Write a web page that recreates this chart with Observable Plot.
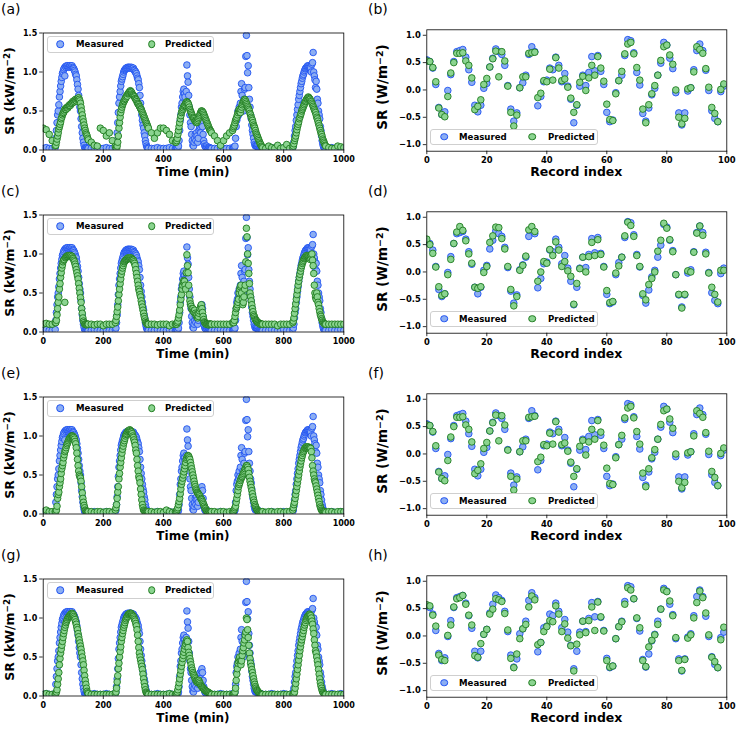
<!DOCTYPE html>
<html><head><meta charset="utf-8">
<script src="https://cdn.jsdelivr.net/npm/d3@7"></script>
<script src="https://cdn.jsdelivr.net/npm/@observablehq/plot@0.6"></script>
<style>
body{margin:0;background:#fff;}
#fig{position:relative;width:737px;height:730px;font-family:"DejaVu Sans",sans-serif;color:#000;overflow:hidden;}
.panel{position:absolute;}
.panel svg{position:absolute;left:0;top:0;}
.plabel{position:absolute;font-size:14px;line-height:14px;font-weight:normal;}
.xt{position:absolute;text-align:center;font-weight:bold;white-space:nowrap;line-height:14px;}
.yt{position:absolute;font-weight:bold;white-space:nowrap;transform:translate(-50%,-50%) rotate(-90deg);line-height:1;}
.yt sup{font-size:0.7em;vertical-align:0.45em;line-height:0;}
.leg{position:absolute;border:1px solid #cfcfcf;border-radius:3px;background:rgba(255,255,255,0.85);box-sizing:border-box;}
.leg .m{position:absolute;width:5.6px;height:5.6px;border-radius:50%;transform:translate(-50%,-50%);border-width:1px;border-style:solid;}
.leg .t{position:absolute;font-size:8.6px;font-weight:bold;transform:translateY(-50%);line-height:1;white-space:nowrap;}
</style>
</head><body><div id="fig"></div>
<script>
// ---------- data ----------
// sampling grid (min): 10-min steps at night, 2-min steps across the daylight humps
const timeMin = [].concat(
  d3.range(0, 41, 10), d3.range(42, 151, 2), d3.range(160, 241, 10), d3.range(242, 351, 2),
  d3.range(360, 441, 10), d3.range(442, 561, 2), d3.range(570, 631, 10), d3.range(632, 731, 2),
  d3.range(740, 831, 10), d3.range(832, 941, 2), d3.range(950, 1001, 10));

const measuredSR = [
0.02,0.03,0.02,0.02,0.03,
0.15,0.25,0.35,0.45,0.5, 0.58,0.68,0.75,0.82,0.88, 0.93,0.98,1.0,1.03,1.05, 0.95,1.07,1.06,1.08,1.07, 1.08,1.06,1.07,1.08,1.08, 1.06,1.07,1.08,1.06,1.05, 1.04,1.02,1.0,0.97,0.95, 0.9,0.84,0.78,0.7,0.62, 0.55,0.5,0.4,0.3,0.22, 0.15,0.1,0.06,0.03,0.02, 0.02,0.02,0.03,0.02,0.02,
0.02,0.03,0.02,0.02,0.02,0.03,0.02,0.02,0.03,
0.05,0.12,0.22,0.35,0.48, 0.6,0.68,0.75,0.82,0.88, 0.91,0.94,0.97,1.0,1.02, 1.03,1.04,1.05,1.05,1.06, 1.05,1.06,1.06,1.05,1.06, 1.05,1.06,1.05,1.04,1.05, 1.03,1.02,1.0,1.0,0.98, 0.95,0.92,0.9,0.85,0.8, 0.7,0.6,0.52,0.45,0.38, 0.32,0.28,0.22,0.18,0.12, 0.08,0.05,0.03,0.02,0.02,
0.02,0.02,0.03,0.02,0.02,0.02,0.03,0.02,0.02,
0.02,0.02,0.03,0.02,0.05, 0.12,0.25,0.38,0.45,0.55, 0.6,0.68,0.75,0.78,0.72, 0.68,0.6,0.75,1.09,0.95, 0.87,0.7,0.55,0.45,0.35, 0.3,0.2,0.12,0.06,0.05, 0.1,0.15,0.2,0.12,0.22, 0.18,0.1,0.15,0.25,0.28, 0.3,0.22,0.32,0.35,0.3, 0.2,0.12,0.08,0.05,0.04, 0.03,0.05,0.03,0.02,0.02, 0.02,0.03,0.02,0.02,0.02,
0.02,0.02,0.03,0.02,0.02,0.02,0.03,
0.02,0.02,0.03,0.05,0.15, 0.3,0.38,0.42,0.5,0.45, 0.55,0.48,0.6,0.75,0.85, 0.7,0.55,0.5,0.65,0.78, 0.8,1.2,1.47,1.21,0.99, 1.08,0.8,0.65,0.55,0.45, 0.4,0.32,0.25,0.2,0.15, 0.1,0.07,0.05,0.06,0.05, 0.04,0.05,0.03,0.02,0.02, 0.02,0.03,0.02,0.02,0.02,
0.02,0.02,0.03,0.02,0.02,0.02,0.03,0.02,0.02,0.03,
0.05,0.1,0.18,0.25,0.3, 0.38,0.45,0.52,0.58,0.65, 0.7,0.75,0.8,0.85,0.88, 0.92,0.95,0.97,1.0,1.02, 1.04,1.05,1.06,1.07,1.08, 1.07,1.08,1.07,1.06,1.05, 1.0,1.1,1.12,1.25,1.0, 0.95,0.9,0.8,0.88,0.78, 0.65,0.6,0.5,0.45,0.4, 0.3,0.25,0.18,0.12,0.08, 0.05,0.03,0.02,0.02,0.02,
0.02,0.03,0.02,0.02,0.03,0.02];

const predictedA = [
0.28,0.26,0.2,0.12,0.05,
0.06,0.1,0.14,0.18,0.22, 0.27,0.3,0.33,0.36,0.4, 0.42,0.45,0.47,0.48,0.5, 0.52,0.53,0.52,0.54,0.55, 0.54,0.56,0.57,0.58,0.57, 0.59,0.6,0.6,0.62,0.61, 0.63,0.62,0.64,0.65,0.63, 0.65,0.66,0.66,0.67,0.65, 0.63,0.6,0.55,0.5,0.45, 0.4,0.36,0.32,0.28,0.25, 0.22,0.2,0.18,0.15,0.13,
0.1,0.06,0.05,0.28,0.25,0.18,0.22,0.12,0.05,
0.03,0.02,0.05,0.1,0.18, 0.28,0.35,0.42,0.48,0.52, 0.55,0.58,0.6,0.62,0.63, 0.65,0.66,0.68,0.7,0.69, 0.72,0.73,0.74,0.75,0.76, 0.75,0.74,0.72,0.71,0.7, 0.69,0.68,0.66,0.65,0.64, 0.62,0.6,0.59,0.58,0.56, 0.55,0.53,0.52,0.5,0.48, 0.46,0.44,0.42,0.4,0.38, 0.36,0.34,0.32,0.3,0.28,
0.22,0.15,0.22,0.28,0.28,0.25,0.2,0.12,0.1,
0.1,0.12,0.15,0.2,0.25, 0.3,0.35,0.4,0.44,0.48, 0.5,0.52,0.54,0.56,0.57, 0.58,0.6,0.61,0.62,0.61, 0.6,0.58,0.55,0.52,0.5, 0.48,0.46,0.44,0.42,0.41, 0.4,0.38,0.37,0.36,0.35, 0.36,0.38,0.4,0.42,0.44, 0.46,0.48,0.5,0.5,0.49, 0.48,0.46,0.44,0.42,0.4, 0.38,0.36,0.34,0.32,0.3, 0.28,0.26,0.25,0.24,0.22,
0.18,0.12,0.06,0.12,0.18,0.22,0.25,
0.28,0.3,0.32,0.35,0.38, 0.4,0.42,0.45,0.48,0.5, 0.52,0.5,0.48,0.52,0.55, 0.58,0.6,0.62,0.63,0.65, 0.64,0.62,0.6,0.58,0.56, 0.54,0.52,0.5,0.47,0.45, 0.42,0.4,0.38,0.35,0.32, 0.3,0.28,0.25,0.22,0.2, 0.18,0.16,0.14,0.12,0.1, 0.08,0.07,0.05,0.04,0.03,
0.02,0.05,0.03,0.02,0.06,0.02,0.03,0.07,0.02,0.03,
0.05,0.08,0.12,0.15,0.18, 0.22,0.26,0.3,0.33,0.36, 0.4,0.42,0.45,0.47,0.5, 0.52,0.54,0.56,0.58,0.6, 0.62,0.63,0.65,0.66,0.67, 0.68,0.67,0.66,0.65,0.63, 0.62,0.6,0.58,0.56,0.54, 0.52,0.5,0.48,0.45,0.42, 0.4,0.37,0.34,0.31,0.28, 0.25,0.22,0.2,0.17,0.14, 0.12,0.1,0.08,0.06,0.05,
0.03,0.02,0.02,0.05,0.04,0.03];

const predictedC = [
0.1,0.11,0.1,0.1,0.12,
0.12,0.15,0.22,0.3,0.38, 0.45,0.55,0.62,0.7,0.76, 0.82,0.86,0.9,0.92,0.93, 0.38,0.95,0.96,0.97,0.97, 0.98,0.97,0.98,0.98,0.97, 0.98,0.96,0.97,0.95,0.94, 0.92,0.9,0.87,0.84,0.8, 0.76,0.72,0.68,0.62,0.56, 0.5,0.44,0.38,0.3,0.24, 0.18,0.14,0.12,0.1,0.1, 0.1,0.09,0.1,0.1,0.1,
0.1,0.09,0.1,0.1,0.08,0.1,0.1,0.1,0.12,
0.15,0.2,0.26,0.32,0.4, 0.48,0.55,0.62,0.68,0.74, 0.78,0.82,0.85,0.88,0.9, 0.91,0.92,0.93,0.93,0.94, 0.95,0.94,0.95,0.95,0.94, 0.95,0.94,0.93,0.93,0.92, 0.9,0.88,0.85,0.8,0.75, 0.7,0.65,0.6,0.55,0.52, 0.48,0.45,0.4,0.36,0.32, 0.28,0.24,0.2,0.17,0.14, 0.12,0.11,0.1,0.1,0.1,
0.1,0.1,0.09,0.1,0.1,0.1,0.08,0.1,0.1,
0.1,0.1,0.12,0.14,0.18, 0.22,0.28,0.35,0.42,0.48, 0.55,0.6,0.64,0.66,0.65, 0.6,0.55,0.76,0.99,0.85, 0.76,0.6,0.48,0.4,0.36, 0.33,0.3,0.28,0.3,0.27, 0.25,0.28,0.24,0.22,0.2, 0.22,0.18,0.2,0.24,0.27, 0.3,0.33,0.35,0.3,0.25, 0.2,0.16,0.13,0.12,0.11, 0.1,0.1,0.1,0.1,0.09, 0.1,0.1,0.1,0.1,0.1,
0.1,0.1,0.1,0.1,0.1,0.1,0.12,
0.12,0.12,0.15,0.2,0.25, 0.3,0.32,0.35,0.38,0.42, 0.5,0.55,0.58,0.6,0.5, 0.42,0.35,0.38,0.45,0.55, 0.6,0.9,1.33,1.22,1.0, 0.88,0.75,0.62,0.5,0.45, 0.4,0.35,0.3,0.26,0.22, 0.2,0.18,0.16,0.15,0.14, 0.13,0.12,0.12,0.11,0.11, 0.1,0.1,0.1,0.1,0.1,
0.1,0.1,0.1,0.1,0.08,0.1,0.1,0.1,0.1,0.12,
0.14,0.18,0.24,0.3,0.36, 0.42,0.48,0.54,0.6,0.65, 0.7,0.74,0.78,0.82,0.85, 0.88,0.9,0.92,0.94,0.95, 0.96,0.97,0.98,0.97,0.98, 0.97,0.96,0.95,0.93,0.95, 0.98,1.0,0.92,0.85,0.75, 0.6,0.5,0.45,0.42,0.5, 0.45,0.38,0.35,0.3,0.26, 0.22,0.2,0.17,0.15,0.13, 0.12,0.11,0.1,0.1,0.1,
0.1,0.1,0.1,0.1,0.1,0.1];

const predictedE = [
0.03,0.05,0.03,0.03,0.03,
0.03,0.05,0.1,0.2,0.25, 0.28,0.35,0.4,0.45,0.52, 0.58,0.62,0.66,0.72,0.76, 0.8,0.82,0.85,0.88,0.9, 0.92,0.94,0.96,0.97,0.98, 0.99,1.0,1.0,1.0,0.99, 0.98,0.96,0.93,0.9,0.85, 0.78,0.7,0.62,0.55,0.5, 0.48,0.46,0.42,0.35,0.27, 0.2,0.15,0.11,0.08,0.05, 0.04,0.03,0.03,0.02,0.03,
0.03,0.02,0.03,0.03,0.02,0.03,0.03,0.02,0.05,
0.08,0.12,0.2,0.28,0.35, 0.45,0.52,0.6,0.66,0.72, 0.78,0.83,0.87,0.91,0.94, 0.97,1.0,1.02,1.03,1.05, 1.06,1.07,1.07,1.08,1.07, 1.06,1.05,1.03,1.0,0.98, 0.95,0.92,0.88,0.82,0.78, 0.7,0.62,0.55,0.48,0.45, 0.4,0.32,0.25,0.18,0.12, 0.08,0.05,0.04,0.03,0.03, 0.02,0.03,0.03,0.02,0.03,
0.03,0.02,0.03,0.03,0.02,0.05,0.03,0.02,0.03,
0.03,0.04,0.06,0.08,0.12, 0.16,0.2,0.26,0.32,0.38, 0.42,0.46,0.5,0.54,0.58, 0.62,0.66,0.7,0.72,0.74, 0.75,0.74,0.72,0.7,0.66, 0.62,0.58,0.54,0.5,0.46, 0.42,0.38,0.35,0.32,0.3, 0.28,0.27,0.26,0.25,0.24, 0.22,0.2,0.19,0.18,0.16, 0.14,0.12,0.1,0.08,0.07, 0.05,0.04,0.03,0.03,0.02, 0.03,0.03,0.02,0.03,0.03,
0.03,0.02,0.03,0.03,0.02,0.03,0.03,
0.03,0.04,0.06,0.08,0.1, 0.15,0.2,0.25,0.3,0.35, 0.38,0.4,0.43,0.45,0.47, 0.48,0.5,0.52,0.54,0.56, 0.58,0.6,0.62,0.62,0.6, 0.57,0.52,0.47,0.42,0.38, 0.34,0.3,0.26,0.22,0.18, 0.15,0.12,0.1,0.08,0.06, 0.05,0.04,0.03,0.03,0.02, 0.03,0.03,0.02,0.03,0.03,
0.02,0.03,0.03,0.02,0.03,0.03,0.02,0.03,0.03,0.05,
0.08,0.12,0.15,0.2,0.25, 0.3,0.35,0.4,0.45,0.5, 0.55,0.6,0.64,0.68,0.72, 0.75,0.78,0.8,0.82,0.84, 0.85,0.86,0.86,0.86,0.85, 0.86,0.85,0.84,0.85,0.84, 0.8,0.72,0.62,0.55,0.5, 0.45,0.42,0.4,0.36,0.32, 0.28,0.24,0.2,0.16,0.12, 0.09,0.07,0.05,0.04,0.03, 0.03,0.02,0.03,0.03,0.02,
0.03,0.03,0.02,0.03,0.03,0.03];

const predictedG = [
0.02,0.03,0.02,0.02,0.02,
0.03,0.05,0.08,0.15,0.22, 0.3,0.4,0.48,0.55,0.6, 0.65,0.7,0.75,0.8,0.84, 0.88,0.91,0.94,0.96,0.98, 1.0,1.01,1.02,1.03,1.04, 1.05,1.05,1.06,1.05,1.04, 1.02,1.0,0.98,0.95,0.92, 0.88,0.85,0.8,0.76,0.72, 0.68,0.64,0.6,0.55,0.5, 0.45,0.4,0.33,0.26,0.2, 0.15,0.1,0.06,0.04,0.03,
0.02,0.02,0.02,0.02,0.02,0.02,0.02,0.02,0.03,
0.05,0.1,0.18,0.26,0.35, 0.42,0.5,0.57,0.63,0.7, 0.75,0.8,0.84,0.88,0.91, 0.94,0.97,0.99,1.01,1.02, 1.04,1.05,1.05,1.06,1.06, 1.06,1.05,1.04,1.03,1.02, 1.0,0.98,0.96,0.93,0.9, 0.85,0.78,0.7,0.62,0.55, 0.5,0.46,0.42,0.38,0.34, 0.28,0.22,0.17,0.12,0.08, 0.05,0.04,0.03,0.02,0.02,
0.02,0.02,0.02,0.02,0.02,0.02,0.03,0.02,0.02,
0.02,0.03,0.05,0.08,0.12, 0.17,0.22,0.28,0.33,0.38, 0.43,0.48,0.52,0.56,0.6, 0.64,0.67,0.7,0.72,0.7, 0.62,0.56,0.52,0.48,0.44, 0.4,0.36,0.33,0.3,0.28, 0.26,0.24,0.22,0.2,0.19, 0.18,0.17,0.18,0.2,0.18, 0.16,0.14,0.13,0.12,0.11, 0.1,0.09,0.08,0.07,0.07, 0.06,0.06,0.05,0.05,0.04, 0.04,0.03,0.03,0.02,0.02,
0.02,0.02,0.02,0.02,0.02,0.02,0.02,
0.02,0.02,0.03,0.05,0.1, 0.2,0.28,0.35,0.42,0.45, 0.48,0.5,0.45,0.4,0.45, 0.52,0.58,0.62,0.68,0.72, 0.78,0.82,1.0,0.98,0.85, 0.75,0.65,0.55,0.48,0.42, 0.38,0.34,0.3,0.26,0.22, 0.18,0.15,0.12,0.1,0.08, 0.07,0.06,0.05,0.04,0.03, 0.03,0.02,0.02,0.02,0.02,
0.02,0.02,0.02,0.02,0.02,0.02,0.02,0.02,0.02,0.02,
0.02,0.03,0.05,0.1,0.16, 0.22,0.28,0.34,0.4,0.46, 0.52,0.58,0.63,0.68,0.72, 0.76,0.8,0.84,0.88,0.91, 0.94,0.97,0.99,1.01,1.02, 1.03,1.04,1.05,1.04,1.03, 1.0,0.96,0.92,0.86,0.8, 0.72,0.65,0.58,0.55,0.5, 0.45,0.4,0.34,0.28,0.22, 0.17,0.13,0.1,0.07,0.05, 0.04,0.03,0.02,0.02,0.02,
0.02,0.02,0.02,0.02,0.02,0.02];

const recordIndex = d3.range(0, 100);
const measuredRec = [
0.55,0.52,0.40,0.10,-0.32,-0.45,-0.40,-0.01,0.28,0.52,
0.70,0.72,0.74,0.60,0.37,0.14,-0.28,-0.40,-0.28,0.03,
0.12,0.42,0.58,0.75,0.70,0.65,0.45,0.08,-0.35,-0.57,
-0.42,0.04,0.13,0.27,0.65,0.79,0.70,-0.29,-0.12,0.15,
0.18,0.40,0.37,0.60,0.45,0.15,0.30,0.07,-0.17,-0.60,
-0.28,0.07,0.27,0.08,0.32,0.61,0.35,0.63,0.34,0.10,
-0.41,-0.58,-0.55,-0.05,0.17,0.27,0.63,0.92,0.90,0.68,
0.32,0.09,-0.43,-0.57,-0.33,-0.09,0.03,0.27,0.49,0.87,
0.82,0.58,0.39,-0.05,-0.42,-0.64,-0.42,-0.02,0.04,0.37,
0.72,0.84,0.72,0.36,-0.01,-0.38,-0.52,-0.58,-0.03,0.07];
const predictedB = [
0.53,0.52,0.41,0.15,-0.33,-0.45,-0.49,-0.12,0.31,0.50,
0.67,0.67,0.68,0.53,0.45,0.22,-0.36,-0.30,-0.18,0.10,
0.21,0.42,0.57,0.71,0.24,0.70,0.53,0.07,-0.41,-0.66,
-0.46,0.04,0.24,0.24,0.67,0.68,0.69,-0.14,-0.06,0.17,
0.15,0.38,0.18,0.59,0.40,0.17,0.20,0.05,-0.15,-0.41,
-0.27,0.14,0.25,-0.01,0.22,0.45,0.27,0.61,0.40,0.16,
-0.26,-0.54,-0.56,-0.07,0.17,0.34,0.66,0.84,0.87,0.66,
0.41,0.18,-0.35,-0.60,-0.27,-0.07,0.08,0.27,0.54,0.79,
0.82,0.64,0.47,0.00,-0.50,-0.62,-0.52,0.02,0.04,0.33,
0.79,0.74,0.67,0.39,0.05,-0.32,-0.43,-0.58,0.01,0.11];
const predictedD = [
0.60,0.50,0.34,0.09,-0.27,-0.43,-0.40,-0.05,0.23,0.52,
0.73,0.83,0.76,0.57,0.33,0.16,-0.28,-0.30,-0.27,-0.01,
0.10,0.54,0.66,0.82,0.81,0.61,0.42,0.10,-0.32,-0.62,
-0.45,0.03,0.12,0.29,0.77,0.83,0.74,-0.17,0.00,0.19,
0.16,0.41,0.30,0.55,0.40,0.10,0.19,0.02,-0.08,-0.59,
-0.21,0.06,0.27,0.00,0.28,0.54,0.30,0.59,0.32,0.09,
-0.34,-0.56,-0.54,-0.02,0.11,0.27,0.66,0.91,0.85,0.65,
0.30,0.10,-0.40,-0.51,-0.23,-0.12,0.00,0.38,0.58,0.89,
0.80,0.59,0.37,-0.05,-0.41,-0.66,-0.41,0.02,0.00,0.36,
0.71,0.84,0.67,0.33,-0.02,-0.28,-0.41,-0.55,0.03,0.03];
const predictedF = [
0.53,0.52,0.41,0.15,-0.33,-0.45,-0.49,-0.12,0.31,0.50,
0.67,0.67,0.68,0.53,0.45,0.22,-0.36,-0.30,-0.18,0.10,
0.21,0.42,0.57,0.71,0.24,0.70,0.53,0.07,-0.41,-0.66,
-0.46,0.04,0.24,0.24,0.67,0.68,0.69,-0.14,-0.06,0.17,
0.15,0.38,0.18,0.59,0.40,0.17,0.20,0.05,-0.15,-0.41,
-0.27,0.14,0.25,-0.02,0.22,0.45,0.27,0.61,0.40,0.16,
-0.26,-0.54,-0.56,-0.07,0.17,0.34,0.66,0.84,0.87,0.66,
0.41,0.18,-0.35,-0.60,-0.27,-0.07,0.08,0.27,0.54,0.79,
0.82,0.64,0.47,0.00,-0.50,-0.62,-0.52,0.02,0.04,0.33,
0.79,0.74,0.67,0.39,0.05,-0.32,-0.43,-0.58,0.01,0.11];
const predictedH = [
0.57,0.55,0.38,0.18,-0.35,-0.43,-0.45,0.01,0.20,0.53,
0.68,0.70,0.74,0.58,0.38,0.20,-0.36,-0.39,-0.14,0.03,
0.12,0.40,0.49,0.68,0.66,0.63,0.41,0.11,-0.41,-0.58,
-0.33,-0.05,0.13,0.21,0.53,0.73,0.66,-0.16,-0.12,0.08,
0.17,0.28,0.26,0.55,0.40,0.08,0.22,-0.04,-0.18,-0.64,
-0.15,0.02,0.27,0.06,0.28,0.53,0.10,0.62,0.35,0.09,
-0.45,-0.57,-0.55,-0.05,0.17,0.26,0.58,0.88,0.84,0.68,
0.33,0.15,-0.45,-0.56,-0.20,-0.08,0.02,0.21,0.49,0.84,
0.81,0.64,0.37,-0.03,-0.45,-0.63,-0.43,-0.04,0.02,0.33,
0.61,0.82,0.70,0.42,0.02,-0.39,-0.47,-0.58,-0.07,0.16];

const leftXTicks = [0, 200, 400, 600, 800, 1000];
const leftYTicks = [0, 0.5, 1.0, 1.5];
const rightXTicks = [0, 20, 40, 60, 80, 100];
const rightYTicks = [-1.0, -0.5, 0, 0.5, 1.0];
const leftPreds = [predictedA, predictedC, predictedE, predictedG];
const rightPreds = [predictedB, predictedD, predictedF, predictedH];
const leftLabels = ["(a)", "(c)", "(e)", "(g)"];
const rightLabels = ["(b)", "(d)", "(f)", "(h)"];
const seriesNames = ["Measured", "Predicted"];

// ---------- styles ----------
const BLUE_FILL = "#8caef2", BLUE_EDGE = "#1f52f2";
const GREEN_FILL = "#8bd490", GREEN_EDGE = "#1e7a1e";
const ROW_H = 182;

function pairs(xs, ys) { return xs.map((x, i) => ({x, y: ys[i]})).filter(d => d.y != null); }

function makePlot(kind, pred) {
  const left = kind === "left";
  const xs = left ? timeMin : recordIndex;
  const meas = left ? measuredSR : measuredRec;
  return Plot.plot({
    width: left ? 368 : 369,
    height: ROW_H,
    marginLeft: left ? 42.7 : 58.3,
    marginRight: left ? 24.7 : 10.7,
    marginTop: left ? 32.5 : 29.3,
    marginBottom: left ? 32.5 : 31.3,
    x: {domain: left ? [0, 1000] : [0, 100]},
    y: {domain: left ? [0, 1.5] : [-1.12, 1.1]},
    style: {fontFamily: "DejaVu Sans", fontWeight: "bold", fontSize: left ? "8px" : "8.4px", background: "transparent", color: "#000", overflow: "visible"},
    marks: [
      Plot.dot(pairs(xs, meas), {x: "x", y: "y", r: 3.3, fill: BLUE_FILL, stroke: BLUE_EDGE, strokeWidth: 0.9, clip: true}),
      Plot.dot(pairs(xs, pred), {x: "x", y: "y", r: 3.3, fill: GREEN_FILL, stroke: GREEN_EDGE, strokeWidth: 0.9, clip: true}),
      Plot.frame({stroke: "#000", strokeWidth: 0.8}),
      Plot.axisX({ticks: left ? leftXTicks : rightXTicks, tickSize: 3.5, tickPadding: 2.5, label: null, tickFormat: d => String(d), strokeWidth: 0.8}),
      Plot.axisY({ticks: left ? leftYTicks : rightYTicks, tickSize: 3.5, tickPadding: 2.5, label: null, tickFormat: d3.format(".1f"), strokeWidth: 0.8})
    ]
  });
}

function el(tag, cls, parent, css, html) {
  const e = document.createElement(tag);
  if (cls) e.className = cls;
  Object.assign(e.style, css || {});
  if (html != null) e.innerHTML = html;
  parent.appendChild(e);
  return e;
}

function legend(parent, box, items) {
  const lg = el("div", "leg", parent, {left: box.left + "px", top: box.top + "px", width: box.w + "px", height: box.h + "px"});
  items.forEach(it => {
    el("span", "m", lg, {left: it.mx + "px", top: (box.h / 2 - 1) + "px", background: it.fill, borderColor: it.edge});
    el("span", "t", lg, {left: it.tx + "px", top: (box.h / 2 - 1) + "px"}, it.name);
  });
}

const fig = document.getElementById("fig");
for (let r = 0; r < 4; r++) {
  const pl = el("div", "panel", fig, {left: "0px", top: (r * ROW_H) + "px", width: "368px", height: ROW_H + "px"});
  pl.appendChild(makePlot("left", leftPreds[r]));
  el("div", "plabel", pl, {left: "1px", top: "2px"}, leftLabels[r]);
  el("div", "xt", pl, {left: "42.7px", width: "300.6px", top: "165px", fontSize: "12px"}, "Time (min)");
  el("div", "yt", pl, {left: "10px", top: "91px", fontSize: "12.5px"}, "SR (kW/m<sup>\u22122</sup>)");
  legend(pl, {left: 46.5, top: 35.5, w: 167, h: 17.5}, [
    {name: seriesNames[0], fill: BLUE_FILL, edge: BLUE_EDGE, mx: 12.5, tx: 28.5},
    {name: seriesNames[1], fill: GREEN_FILL, edge: GREEN_EDGE, mx: 104, tx: 117.5}
  ]);
  const pr = el("div", "panel", fig, {left: "368px", top: (r * ROW_H) + "px", width: "369px", height: ROW_H + "px"});
  pr.appendChild(makePlot("right", rightPreds[r]));
  el("div", "plabel", pr, {left: "0px", top: "2px"}, rightLabels[r]);
  el("div", "xt", pr, {left: "58.3px", width: "300px", top: "165px", fontSize: "12.5px"}, "Record index");
  el("div", "yt", pr, {left: "15px", top: "87px", fontSize: "13.5px"}, "SR (W/m<sup>\u22122</sup>)");
  legend(pr, {left: 61.5, top: 128.5, w: 168.5, h: 16.5}, [
    {name: seriesNames[0], fill: BLUE_FILL, edge: BLUE_EDGE, mx: 13.5, tx: 28.5},
    {name: seriesNames[1], fill: GREEN_FILL, edge: GREEN_EDGE, mx: 101.5, tx: 117.5}
  ]);
}
</script>
</body></html>
